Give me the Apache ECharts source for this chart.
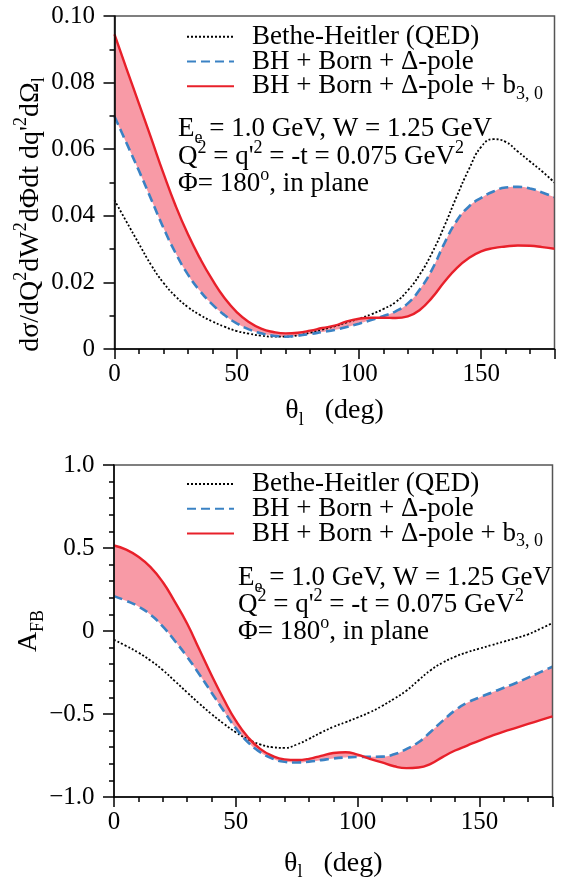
<!DOCTYPE html>
<html>
<head>
<meta charset="utf-8">
<script src="https://cdn.jsdelivr.net/npm/echarts@6/dist/echarts.min.js"></script>
<style>
  html, body { margin: 0; padding: 0; background: #fff; }
  #chart { width: 564px; height: 880px; }
  #fontwarm { position: absolute; left: -1000px; top: 0; font-family: 'Liberation Serif'; font-size: 25px; }
</style>
</head>
<body>
<span id="fontwarm">Liberation Serif 0.10 θΦΔΩσ</span>
<div id="chart"></div>
<script>
// lepton angle theta_l (deg)
const theta = [0, 5, 10, 15, 20, 25, 30, 35, 40, 45, 50, 55, 60, 65, 70, 75, 80, 85, 90,
  95, 100, 105, 110, 115, 120, 125, 130, 135, 140, 145, 150, 155, 160, 165, 170, 175, 180];

// cross section panel
const bhCross = [0.0447, 0.0381, 0.0316, 0.0252, 0.0199, 0.0158, 0.0126, 0.0102, 0.0083, 0.0067, 0.0054, 0.0046, 0.0040, 0.0037, 0.0037, 0.0041, 0.0049, 0.0058, 0.0068,
  0.0080, 0.0091, 0.0104, 0.0120, 0.0141, 0.0176, 0.0225, 0.0290, 0.0370, 0.0458, 0.0540, 0.0607, 0.0630, 0.0622, 0.0593, 0.0563, 0.0533, 0.0500];
const poleCross = [0.0698, 0.0617, 0.0535, 0.0450, 0.0364, 0.0288, 0.0224, 0.0174, 0.0134, 0.0102, 0.0077, 0.0059, 0.0047, 0.0040, 0.0037, 0.0040, 0.0045, 0.0051, 0.0057,
  0.0066, 0.0076, 0.0087, 0.0099, 0.0113, 0.0137, 0.0180, 0.0240, 0.0318, 0.0385, 0.0428, 0.0454, 0.0473, 0.0485, 0.0487, 0.0482, 0.0470, 0.0456];
const b30Cross = [0.0945, 0.0840, 0.0737, 0.0633, 0.0528, 0.0430, 0.0345, 0.0272, 0.0208, 0.0153, 0.0111, 0.0081, 0.0061, 0.0051, 0.0047, 0.0049, 0.0055, 0.0063, 0.0070,
  0.0083, 0.0091, 0.0094, 0.0094, 0.0093, 0.0098, 0.0118, 0.0155, 0.0202, 0.0243, 0.0273, 0.0293, 0.0303, 0.0308, 0.0311, 0.0310, 0.0306, 0.0301];

// forward-backward asymmetry panel
const bhAfb = [-0.053, -0.090, -0.130, -0.178, -0.235, -0.302, -0.370, -0.437, -0.500, -0.558, -0.610, -0.652, -0.683, -0.700, -0.704, -0.684, -0.650, -0.612, -0.578,
  -0.550, -0.521, -0.490, -0.452, -0.408, -0.360, -0.297, -0.236, -0.190, -0.155, -0.128, -0.106, -0.085, -0.064, -0.043, -0.020, 0.013, 0.048];
const poleAfb = [0.210, 0.182, 0.148, 0.098, 0.028, -0.060, -0.155, -0.260, -0.370, -0.480, -0.585, -0.670, -0.730, -0.768, -0.788, -0.792, -0.787, -0.778, -0.768,
  -0.762, -0.759, -0.758, -0.757, -0.743, -0.712, -0.670, -0.607, -0.540, -0.478, -0.432, -0.400, -0.371, -0.342, -0.313, -0.281, -0.248, -0.215];
const b30Afb = [0.515, 0.490, 0.447, 0.385, 0.295, 0.175, 0.045, -0.110, -0.265, -0.410, -0.540, -0.640, -0.710, -0.752, -0.773, -0.777, -0.770, -0.752, -0.735,
  -0.730, -0.745, -0.770, -0.792, -0.815, -0.826, -0.822, -0.800, -0.758, -0.720, -0.690, -0.660, -0.632, -0.606, -0.583, -0.560, -0.537, -0.514];

// tick labels
const xLabels = ['0', '50', '100', '150'];
const crossLabels = ['0', '0.02', '0.04', '0.06', '0.08', '0.10'];
const afbLabels = ['\u22121.0', '\u22120.5', '0', '0.5', '1.0'];

const BH = 'Bethe-Heitler (QED)';
const POLE = 'BH + Born + \u0394-pole';
const B30 = 'BH + Born + \u0394-pole + b3,0';

const FONT = 'Liberation Serif';
const RED = '#e8202a';
const BLUE = '#3a82c4';
const PINK = '#f89aa6';

const chart = echarts.init(document.getElementById('chart'));

function pairs(ys) {
  return theta.map((t, i) => [t, ys[i]]);
}

const supStyle = { fontFamily: FONT, fontSize: 18, lineHeight: 26, verticalAlign: 'top', fill: '#000', color: '#000' };
const subStyle = { fontFamily: FONT, fontSize: 18, verticalAlign: 'bottom', fill: '#000', color: '#000' };

function xAxisValue(gridIndex, nameGap) {
  return {
    type: 'value', gridIndex: gridIndex, min: 0, max: 180, interval: 50,
    name: '\u03b8{sub|l}   (deg)', nameLocation: 'middle', nameGap: nameGap,
    nameTextStyle: { fontFamily: FONT, fontSize: 28, lineHeight: 36, color: '#000', rich: { sub: subStyle } },
    axisLine: { show: true, onZero: false, lineStyle: { color: '#000', width: 1.5 } },
    axisTick: { show: true, length: 10, lineStyle: { color: '#000', width: 1.5 } },
    minorTick: { show: true, splitNumber: 5, length: 5, lineStyle: { color: '#000', width: 1.5 } },
    splitLine: { show: false },
    axisLabel: {
      margin: 13, fontFamily: FONT, fontSize: 25, color: '#000',
      formatter: v => (v % 50 === 0 ? xLabels[v / 50] : '')
    },
    z: 5
  };
}

function yAxisValue(gridIndex, min, max, interval, minorSplit, labels) {
  return {
    type: 'value', gridIndex: gridIndex, min: min, max: max, interval: interval,
    axisLine: { show: true, onZero: false, lineStyle: { color: '#000', width: 1.5 } },
    axisTick: { show: true, length: 11, lineStyle: { color: '#000', width: 1.5 } },
    minorTick: { show: true, splitNumber: minorSplit, length: 5, lineStyle: { color: '#000', width: 1.5 } },
    splitLine: { show: false },
    axisLabel: {
      margin: 19.5, fontFamily: FONT, fontSize: 25, color: '#000',
      formatter: v => labels[Math.round((v - min) / interval)]
    },
    z: 5
  };
}

// hidden category axis on the same grid, used only for the stacked band
function bandAxis(gridIndex) {
  return { type: 'category', gridIndex: gridIndex, data: theta.map(String), boundaryGap: false, show: false };
}

function bandSeries(a, b, xIdx, yIdx) {
  const base = a.map((v, i) => Math.min(v, b[i]));
  const width = a.map((v, i) => Math.abs(b[i] - v));
  const common = {
    type: 'line', xAxisIndex: xIdx, yAxisIndex: yIdx, stack: 'band' + yIdx, stackStrategy: 'all',
    smooth: true, symbol: 'none', silent: true, lineStyle: { width: 0, opacity: 0 }, z: 1
  };
  return [
    Object.assign({}, common, { data: base }),
    Object.assign({}, common, { data: width, areaStyle: { color: PINK, opacity: 1 } })
  ];
}

function curveSeries(xIdx, yIdx, bh, pole, b30) {
  return [
    { name: BH, type: 'line', xAxisIndex: xIdx, yAxisIndex: yIdx, data: pairs(bh), smooth: true, symbol: 'none',
      lineStyle: { color: '#000', width: 1.8, type: [2, 2] }, itemStyle: { color: '#000' }, z: 2 },
    { name: POLE, type: 'line', xAxisIndex: xIdx, yAxisIndex: yIdx, data: pairs(pole), smooth: true, symbol: 'none',
      lineStyle: { color: BLUE, width: 2.6, type: [9, 5] }, itemStyle: { color: BLUE }, z: 3 },
    { name: B30, type: 'line', xAxisIndex: xIdx, yAxisIndex: yIdx, data: pairs(b30), smooth: true, symbol: 'none',
      lineStyle: { color: RED, width: 2.4 }, itemStyle: { color: RED }, z: 4 }
  ];
}

function legendFor(top) {
  return {
    orient: 'vertical', left: 186, top: top, padding: 0, itemGap: -9.2,
    itemWidth: 47, itemHeight: 10, selectedMode: false,
    itemStyle: { opacity: 0 },
    data: [BH, POLE, B30],
    formatter: name => (name === B30 ? 'BH + Born + \u0394-pole + b{sub|3, 0}' : name),
    textStyle: { fontFamily: FONT, fontSize: 27, lineHeight: 34, color: '#000', padding: [0, 0, 0, 13], rich: { sub: subStyle } }
  };
}

function textLine(x, top, text) {
  return {
    type: 'text', x: x, y: top, z: 10,
    style: {
      text: text, fontFamily: FONT, fontSize: 27, lineHeight: 36, fill: '#000',
      align: 'left', verticalAlign: 'top', rich: { sup: supStyle, sub: subStyle }
    }
  };
}

function annotation(x, baselines) {
  const lines = [
    'E{sub|e} = 1.0 GeV, W = 1.25 GeV',
    'Q{sup|2} = q\'{sup|2} = -t = 0.075 GeV{sup|2}',
    '\u03a6= 180{sup|o}, in plane'
  ];
  return lines.map((t, i) => textLine(x, baselines[i] - 27.2, t));
}

function yTitle(cx, cy, text) {
  return {
    type: 'text', x: cx, y: cy, rotation: Math.PI / 2, z: 10,
    style: {
      text: text, fontFamily: FONT, fontSize: 28, lineHeight: 36, fill: '#000',
      align: 'center', verticalAlign: 'middle', rich: { sup: supStyle, sub: subStyle }
    }
  };
}

const option = {
  animation: false,
  backgroundColor: '#fff',
  textStyle: { fontFamily: FONT },
  grid: [
    { left: 114.5, top: 16, width: 440, height: 333, show: true, borderColor: '#555', borderWidth: 1.5, z: 4, outerBoundsMode: 'none' },
    { left: 114, top: 465, width: 438.5, height: 332, show: true, borderColor: '#555', borderWidth: 1.5, z: 4, outerBoundsMode: 'none' }
  ],
  xAxis: [xAxisValue(0, 44), xAxisValue(1, 48.5), bandAxis(0), bandAxis(1)],
  yAxis: [
    yAxisValue(0, 0, 0.1, 0.02, 2, crossLabels),
    yAxisValue(1, -1, 1, 0.5, 5, afbLabels)
  ],
  legend: [legendFor(19.7), legendFor(467)],
  graphic: [
    ...annotation(178, [138.5, 166, 193.5]),
    ...annotation(238, [587, 614, 641]),
    yTitle(30.5, 214.5, 'd\u03c3/dQ{sup|2}dW{sup|2}d\u03a6dt dq\'{sup|2}d\u03a9{sub|l}'),
    yTitle(29, 631, 'A{sub|FB}')
  ],
  series: [
    ...bandSeries(poleCross, b30Cross, 2, 0),
    ...curveSeries(0, 0, bhCross, poleCross, b30Cross),
    ...bandSeries(poleAfb, b30Afb, 3, 1),
    ...curveSeries(1, 1, bhAfb, poleAfb, b30Afb)
  ]
};

chart.setOption(option);
</script>
</body>
</html>
